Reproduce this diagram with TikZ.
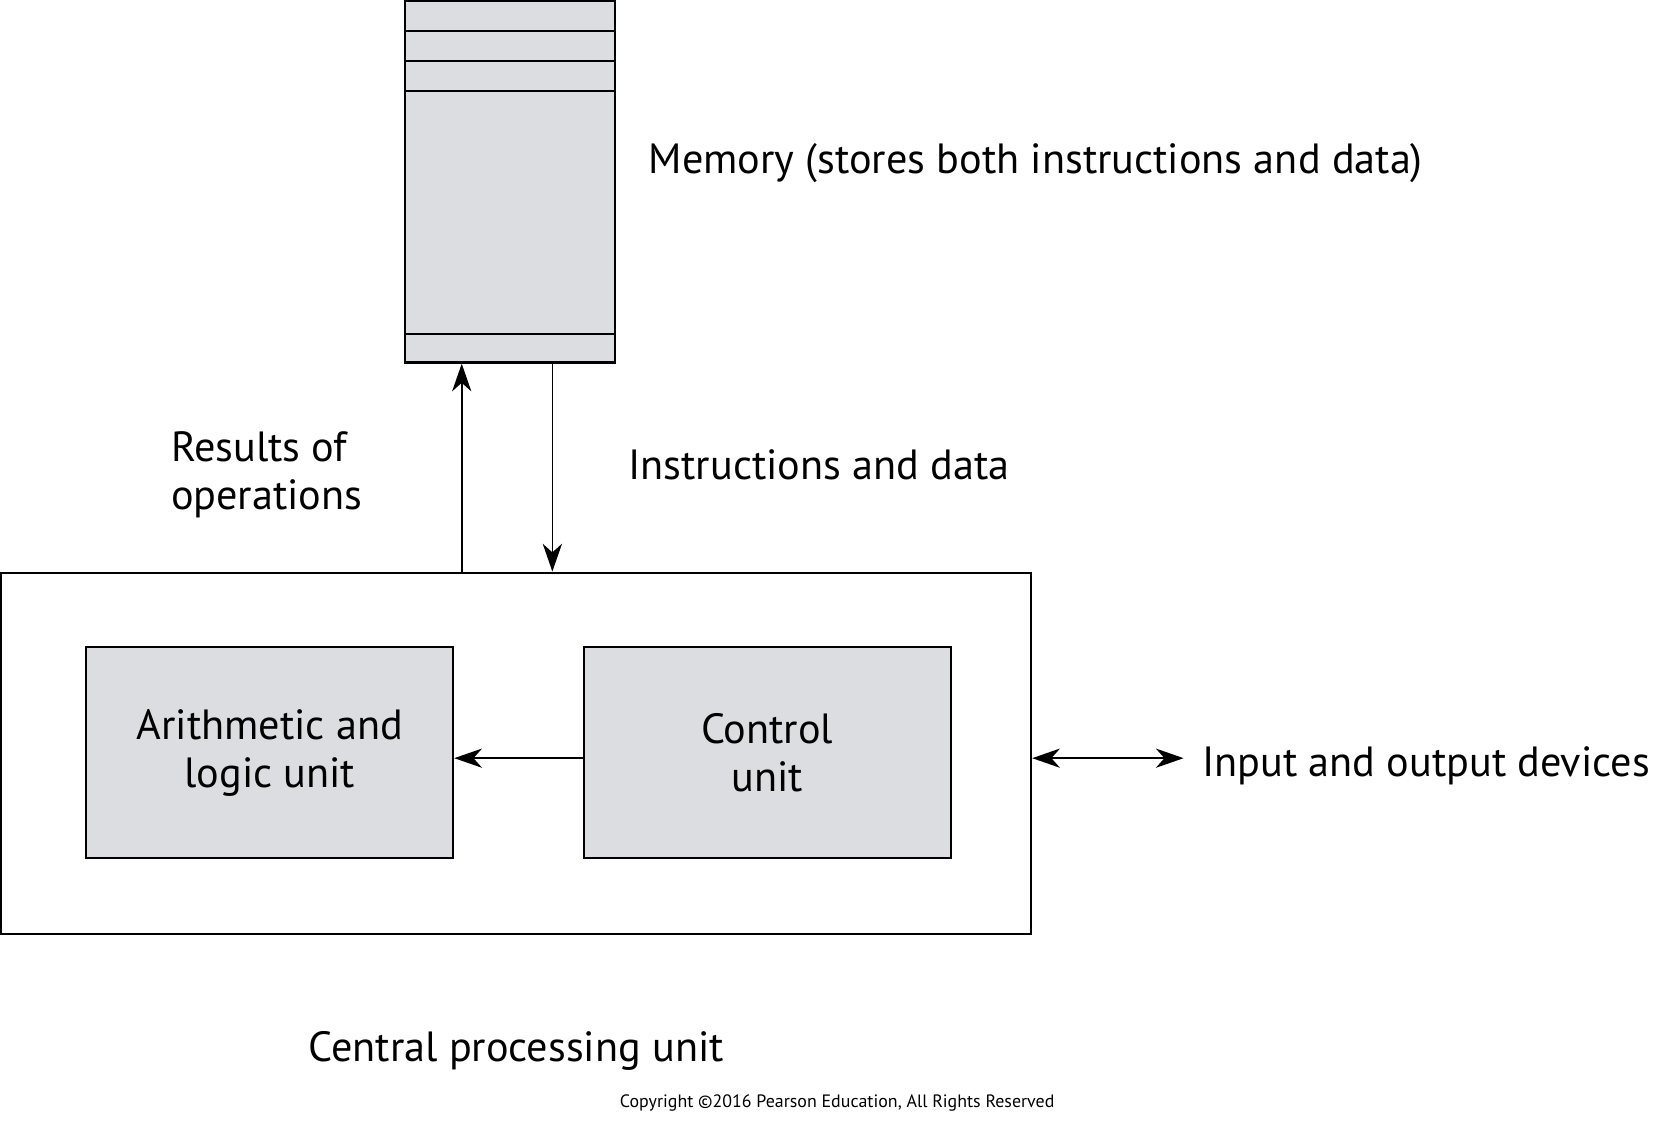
\documentclass[tikz,border=0pt]{standalone}
\usepackage{fontspec}
\setmainfont{PT Sans}
\usetikzlibrary{arrows.meta,calc}
\definecolor{unitgray}{RGB}{220,221,224}

\begin{document}
\begin{tikzpicture}[
        x=0.5pt, y=-0.5pt, % одна единица = один пиксель рисунка
        font=\fontsize{19.8}{22.5}\selectfont,
        arr/.style = {draw, line width=0.75pt, -{Stealth[length=13pt, width=9pt, inset=4pt]}},
        dblarr/.style = {draw, line width=0.75pt, {Stealth[length=13pt, width=9pt, inset=4pt]}-{Stealth[length=13pt, width=9pt, inset=4pt]}},
        mem/.style = {draw, line width=1pt, fill=unitgray, minimum width=98.5pt, minimum height=169.5pt, inner sep=0pt},
        unit/.style = {draw, line width=1pt, fill=unitgray, minimum width=172pt, minimum height=99pt, align=center}, % блоки процессора
        lbl/.style = {inner sep=0pt, align=left},
    ]
    \useasboundingbox (0,0) rectangle (1568,1055);

    % память
    \node[mem] (mem) at (478.5,170.5) {};
    \foreach \d in {14.5, 28.5, 42.5}
        \draw[line width=1pt] ([yshift=-\d pt]mem.north west) -- ([yshift=-\d pt]mem.north east);
    \draw[line width=1pt] ([yshift=14pt]mem.south west) -- ([yshift=14pt]mem.south east);
    \node[lbl, anchor=base west] (memtxt) at (608,163) {Memory (stores both instructions and data)};

    % процессор
    \node[draw, line width=1pt, minimum width=483pt, minimum height=169.5pt] (cpu) at (484,706.5) {};
    \node[unit] (alu) at (253,706) {Arithmetic and\\logic unit};
    \node[unit] (ctl) at (719.5,706) {Control\\unit};
    \node[lbl, anchor=base west] (cputxt) at (289,995) {Central processing unit};

    % связи
    \draw[arr] ([xshift=-22.75pt]mem.south |- cpu.north) -- ([xshift=-22.75pt]mem.south);
    \draw[arr] ([xshift=19.75pt]mem.south) -- ([xshift=19.75pt]mem.south |- cpu.north);
    \draw[arr] ([yshift=-2.5pt]ctl.west) -- ([yshift=-2.5pt]alu.east);
    \node[lbl, anchor=base west] (res) at (160,478) {Results of\\operations};
    \node[lbl, anchor=base west] (instr) at (589,450) {Instructions and data};

    \node[lbl, anchor=base west] (io) at (1127,728) {Input and output devices};
    \coordinate (ioend) at (1110,711);
    \draw[dblarr] (cpu.east |- ioend) -- (ioend);

    \node[lbl, anchor=base west, font=\fontsize{8.4}{10}\selectfont] (copy) at (581,1039) {Copyright ©2016 Pearson Education, All Rights Reserved};
\end{tikzpicture}
\end{document}
